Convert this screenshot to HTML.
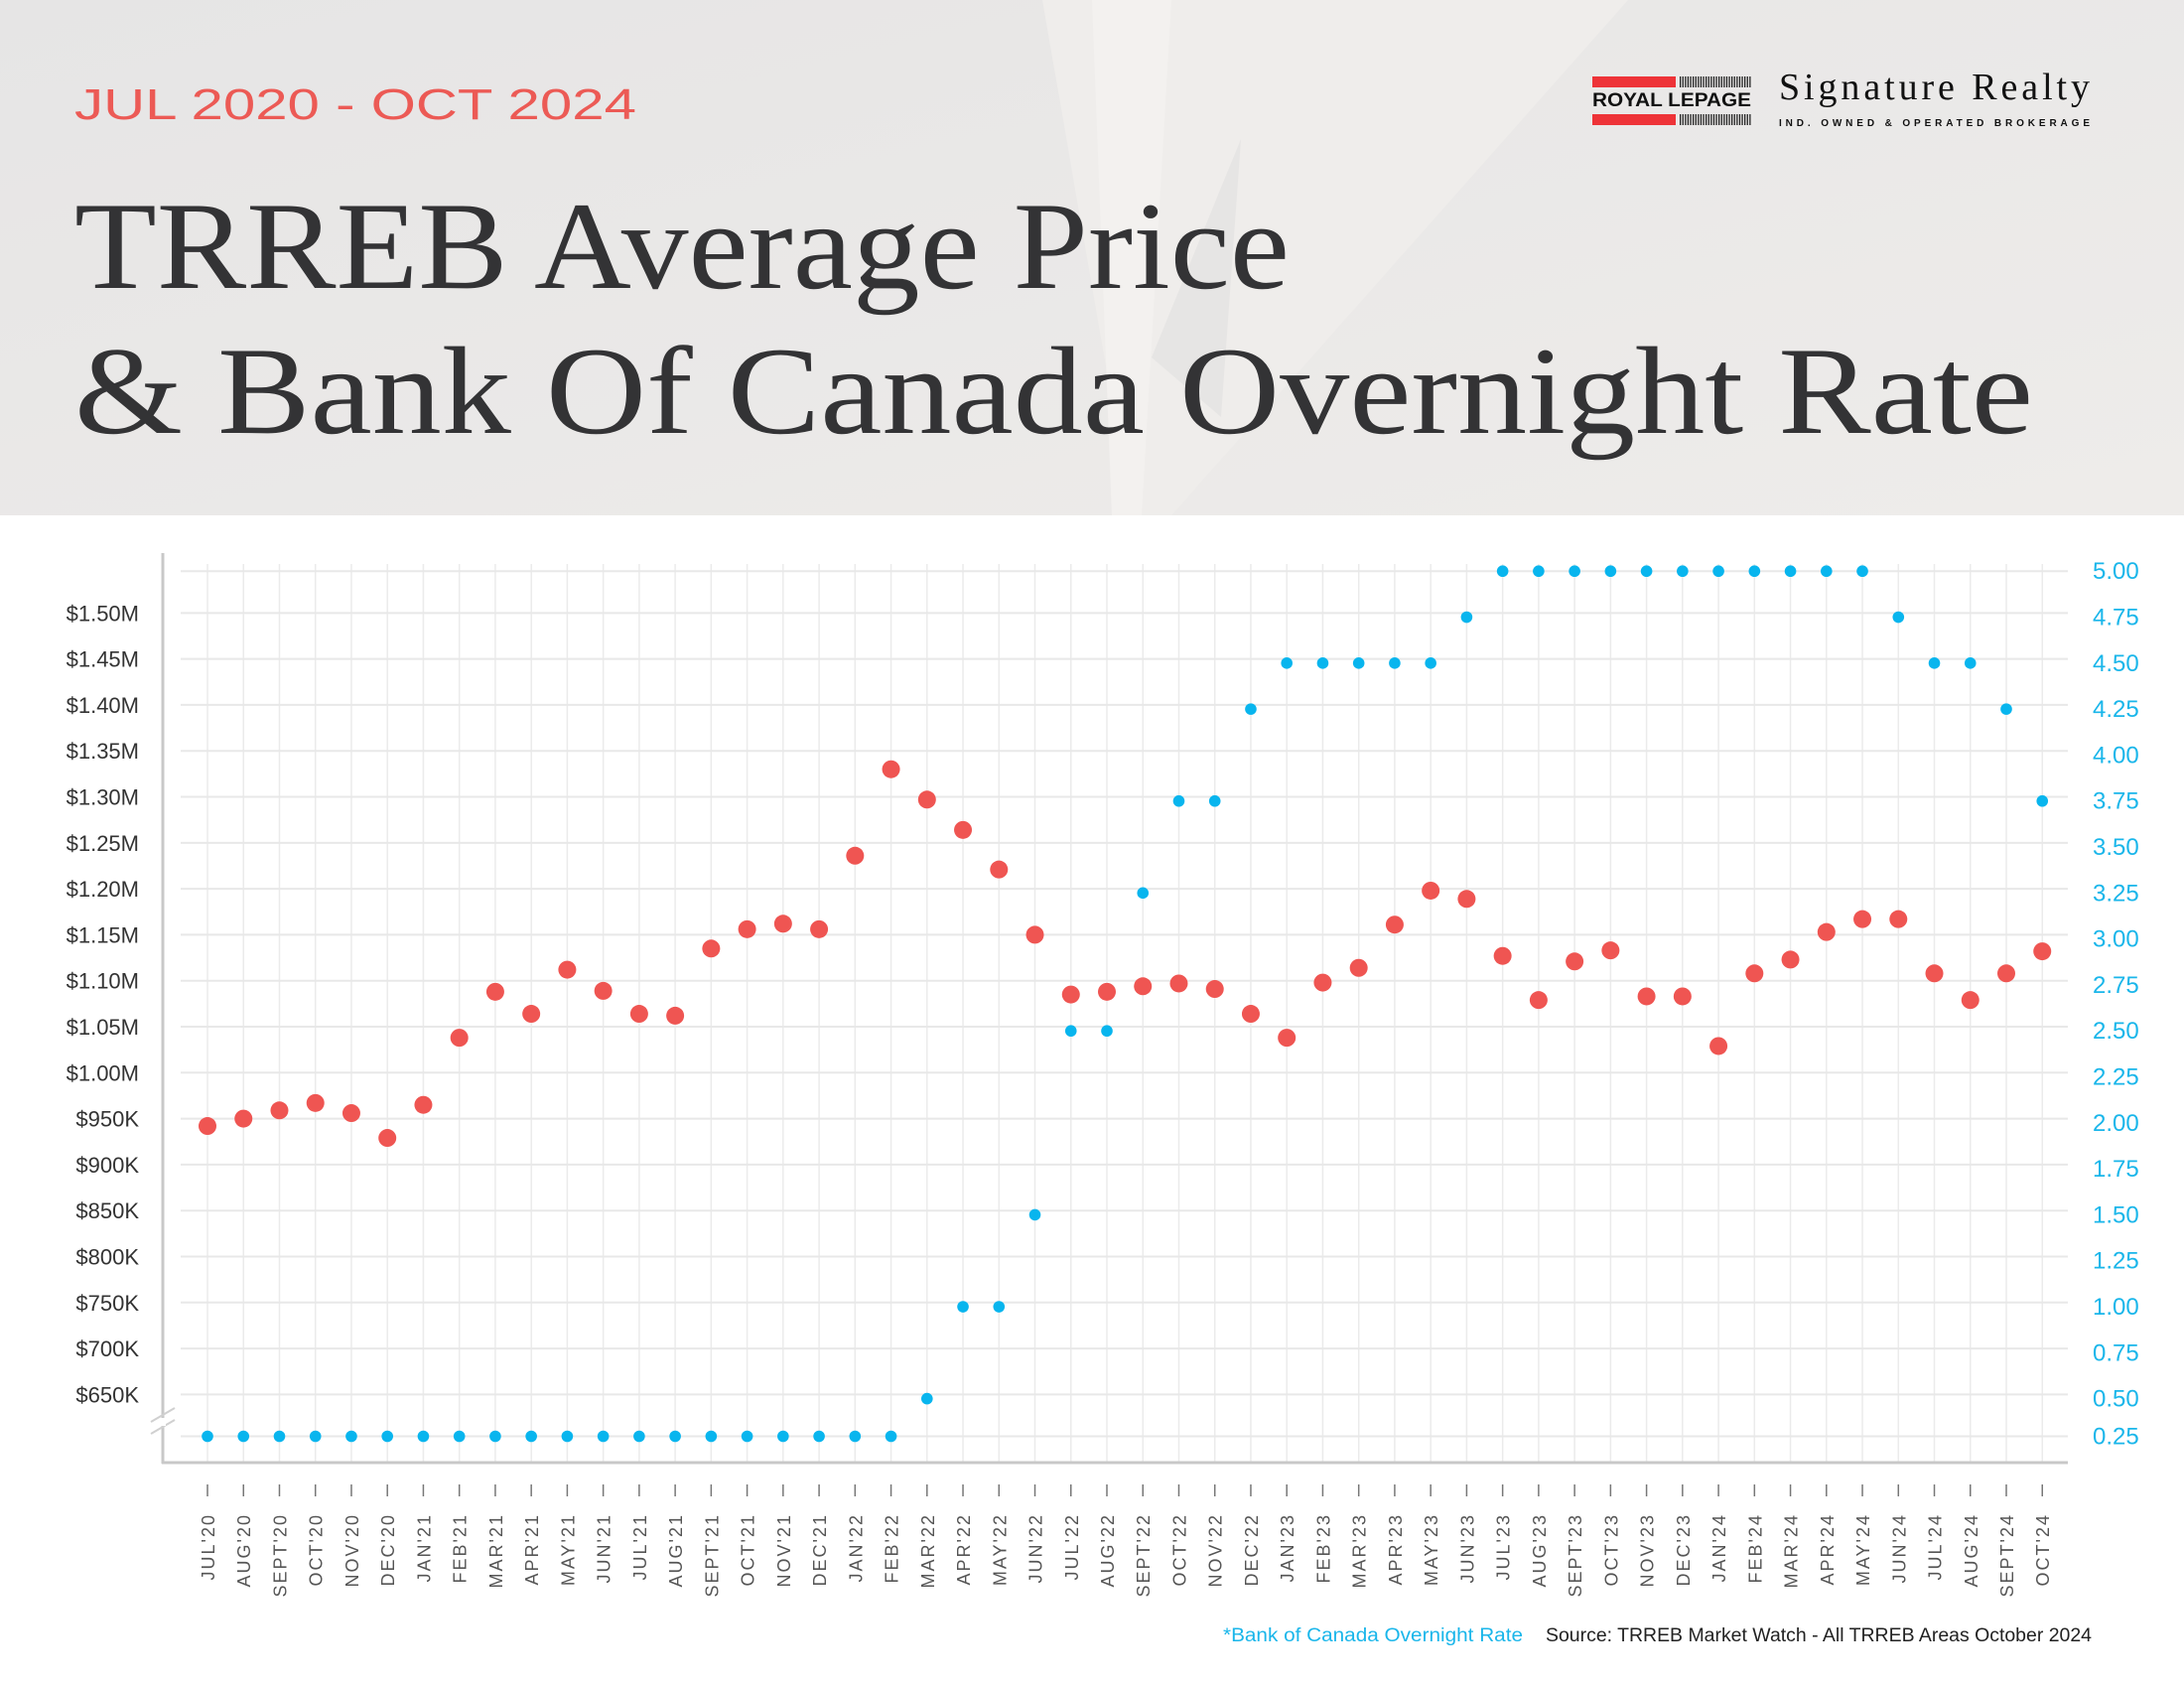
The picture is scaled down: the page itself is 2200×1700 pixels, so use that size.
<!DOCTYPE html>
<html><head><meta charset="utf-8"><style>
html,body{margin:0;padding:0;background:#fff}
svg{display:block}
</style></head><body>
<svg id="s" width="2200" height="1700" viewBox="0 0 2200 1700" xmlns="http://www.w3.org/2000/svg">
<defs><linearGradient id="bg" x1="0" y1="0" x2="1" y2="1">
<stop offset="0" stop-color="#e6e5e5"/><stop offset="1" stop-color="#eeecea"/></linearGradient></defs>
<rect x="0" y="0" width="2200" height="519" fill="url(#bg)"/>
<polygon points="1050,0 1640,0 1180,519 1140,519" fill="#efedeb" opacity="0.9"/>
<polygon points="1100,0 1180,0 1150,519 1120,519" fill="#f3f1ef"/>
<polygon points="1160,360 1250,140 1230,420" fill="#e2e1e1" opacity="0.7"/>
<text x="75" y="120" font-family="Liberation Sans, sans-serif" font-size="44" fill="#ec5a55" textLength="566" lengthAdjust="spacingAndGlyphs">JUL 2020 - OCT 2024</text>
<text x="75" y="290" font-family="Liberation Serif, serif" font-size="126" fill="#333335" textLength="1224" lengthAdjust="spacingAndGlyphs">TRREB Average Price</text>
<text x="75" y="436" font-family="Liberation Serif, serif" font-size="126" fill="#333335" textLength="1973" lengthAdjust="spacingAndGlyphs">&amp; Bank Of Canada Overnight Rate</text>
<g id="bars"></g>
<text x="1604" y="107" font-family="Liberation Sans, sans-serif" font-weight="bold" font-size="19" fill="#111" textLength="160" lengthAdjust="spacingAndGlyphs">ROYAL LEPAGE</text>
<text x="1792" y="100" font-family="Liberation Serif, serif" font-size="38" fill="#111" textLength="313" lengthAdjust="spacing">Signature Realty</text>
<text x="1792" y="127" font-family="Liberation Sans, sans-serif" font-weight="bold" font-size="10" fill="#111" textLength="313" lengthAdjust="spacing">IND. OWNED &amp; OPERATED BROKERAGE</text>
<g id="chart"></g>
<text x="1232" y="1653" font-family="Liberation Sans, sans-serif" font-size="19" fill="#1ab6ea" textLength="302" lengthAdjust="spacingAndGlyphs">*Bank of Canada Overnight Rate</text>
<text x="1557" y="1653" font-family="Liberation Sans, sans-serif" font-size="19" fill="#222" textLength="550" lengthAdjust="spacingAndGlyphs">Source: TRREB Market Watch - All TRREB Areas October 2024</text>
</svg>
<script>
var NS="http://www.w3.org/2000/svg";
function el(p,t,a,txt){var e=document.createElementNS(NS,t);for(var k in a)e.setAttribute(k,a[k]);if(txt!=null)e.textContent=txt;p.appendChild(e);return e;}
var bars=document.getElementById('bars');
el(bars,'rect',{x:1604,y:77,width:84,height:11,fill:'#ee3338'});
el(bars,'rect',{x:1604,y:115,width:84,height:11,fill:'#ee3338'});
for(var i=0;i<28;i++){var x=1692+i*2.6;el(bars,'rect',{x:x,y:77,width:1.3,height:11,fill:'#222'});el(bars,'rect',{x:x,y:115,width:1.3,height:11,fill:'#222'});}
var g=document.getElementById('chart');
var R=1.403;
var x0=209,dx=36.24;
function yP(p){return (440+(1500-p)/50*33)*R;}
function yR(r){if(r<=0.25)return 1031*R;return (410+(5-r)/0.25*33)*R;}
for(var i=0;i<52;i++){var x=x0+i*dx;el(g,'line',{x1:x,y1:568,x2:x,y2:1473,stroke:'#ebebeb','stroke-width':1.5});}
var hl=[575.2];
for(var p=1500;p>=650;p-=50)hl.push(yP(p));
hl.push(1446.5);
hl.forEach(function(y){el(g,'line',{x1:182,y1:y,x2:2083,y2:y,stroke:'#e8e8e8','stroke-width':2});});
el(g,'line',{x1:164,y1:557,x2:164,y2:1474,stroke:'#c8c8c8','stroke-width':3});
el(g,'line',{x1:163,y1:1473,x2:2083,y2:1473,stroke:'#c8c8c8','stroke-width':3});
el(g,'line',{x1:152,y1:1432,x2:176,y2:1418,stroke:'#d0d0d0','stroke-width':2});
el(g,'line',{x1:152,y1:1444,x2:176,y2:1430,stroke:'#d0d0d0','stroke-width':2});
el(g,'rect',{x:161,y:1428,width:6,height:8,fill:'#fff'});
for(var p=1500;p>=650;p-=50){var t=p>=1000?('$'+(p/1000).toFixed(2)+'M'):('$'+p+'K');
el(g,'text',{x:140,y:yP(p)+8,'text-anchor':'end','font-family':'Liberation Sans, sans-serif','font-size':22,fill:'#333'},t);}
for(var r=5;r>=0.25;r-=0.25){el(g,'text',{x:2108,y:yR(r)+8,'font-family':'Liberation Sans, sans-serif','font-size':24,fill:'#1ab6ea'},r.toFixed(2));}
var mon=['JAN','FEB','MAR','APR','MAY','JUN','JUL','AUG','SEPT','OCT','NOV','DEC'];
for(var i=0;i<52;i++){var m=(6+i)%12,yr=20+Math.floor((6+i)/12);var x=x0+i*dx;
el(g,'line',{x1:x,y1:1495,x2:x,y2:1507,stroke:'#777','stroke-width':1.5});
el(g,'text',{x:0,y:0,transform:'translate('+(x+7)+',1524) rotate(-90)','text-anchor':'end','font-family':'Liberation Sans, sans-serif','font-size':18,'letter-spacing':2,fill:'#555'},mon[m]+"'"+yr);}
var price=[942,950,959,967,956,929,965,1038,1088,1064,1112,1089,1064,1062,1135,1156,1162,1156,1236,1330,1297,1264,1221,1150,1085,1088,1094,1097,1091,1064,1038,1098,1114,1161,1198,1189,1127,1079,1121,1133,1083,1083,1029,1108,1123,1153,1167,1167,1108,1079,1108,1132];
var rate=[];for(var i=0;i<20;i++)rate.push(0.25);
rate=rate.concat([0.5,1,1,1.5,2.5,2.5,3.25,3.75,3.75,4.25,4.5,4.5,4.5,4.5,4.5,4.75,5,5,5,5,5,5,5,5,5,5,5,4.75,4.5,4.5,4.25,3.75]);
for(var i=0;i<52;i++){var x=x0+i*dx;
el(g,'circle',{cx:x,cy:yP(price[i]),r:9,fill:'#ef5552'});
el(g,'circle',{cx:x,cy:yR(rate[i]),r:5.8,fill:'#08b5ee'});}
</script>
</body></html>
